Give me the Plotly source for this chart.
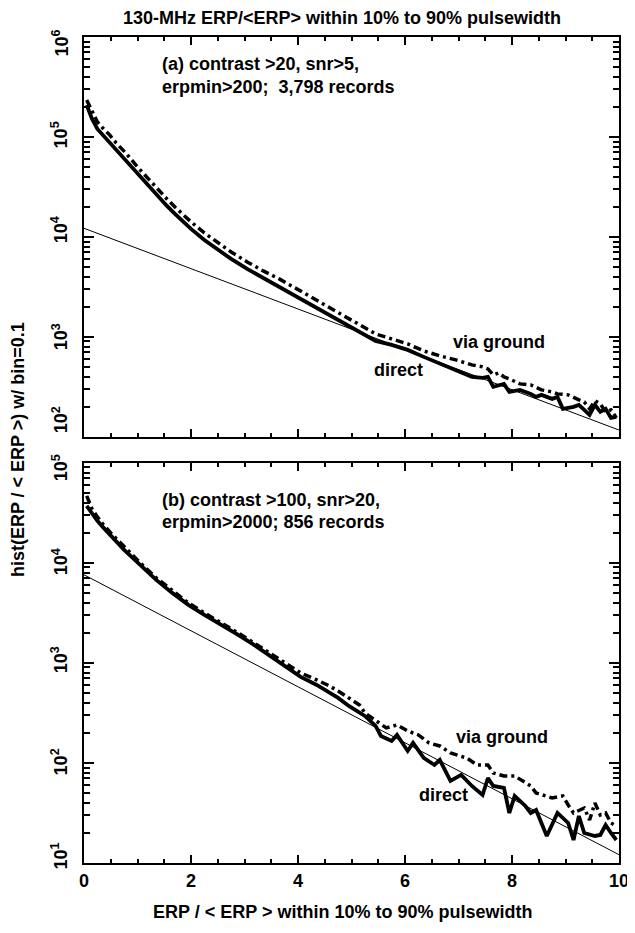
import numpy as np
import plotly.graph_objects as go

# ---------------- data ----------------
# panel (a)
a_direct_x = [0.05,0.15,0.25,0.35,0.48,0.6,0.78,1.0,1.2,1.39,1.55,1.7,2.0,2.25,2.5,2.75,3.05,3.35,3.65,3.95,4.25,4.55,4.85,5.15,5.45,
              5.75,6.05,6.35,6.65,6.95,7.25,7.45,7.55,7.65,7.85,7.95,8.15,8.35,8.45,8.55,8.75,8.85,8.95,9.15,9.25,9.35,9.45,9.55,9.65,9.75,9.85,9.95]
a_direct_log = [5.32,5.18,5.08,5.02,4.95,4.87,4.77,4.63,4.51,4.40,4.31,4.23,4.08,3.97,3.87,3.78,3.68,3.59,3.50,3.41,3.32,3.23,3.14,3.05,2.96,
                2.92,2.87,2.80,2.73,2.67,2.60,2.59,2.60,2.50,2.53,2.45,2.47,2.43,2.40,2.42,2.38,2.40,2.28,2.30,2.32,2.27,2.22,2.32,2.25,2.28,2.19,2.20]
a_ground_x = [0.05,0.15,0.25,0.35,0.48,0.6,0.78,1.0,1.2,1.39,1.55,1.7,2.0,2.25,2.5,2.75,3.05,3.35,3.65,3.95,4.25,4.55,4.85,5.15,5.45,
              5.75,6.05,6.35,6.65,6.95,7.15,7.25,7.45,7.55,7.65,7.75,7.85,7.95,8.15,8.35,8.55,8.75,8.85,9.05,9.25,9.35,9.45,9.55,9.65,9.75,9.85,9.95]
a_ground_log = [5.37,5.25,5.15,5.09,5.02,4.94,4.84,4.70,4.58,4.47,4.38,4.30,4.15,4.04,3.94,3.85,3.75,3.66,3.58,3.49,3.40,3.31,3.22,3.12,3.03,
                2.98,2.93,2.86,2.81,2.77,2.74,2.72,2.70,2.68,2.62,2.64,2.60,2.58,2.53,2.52,2.47,2.45,2.43,2.42,2.37,2.35,2.28,2.36,2.33,2.25,2.27,2.19]
a_fit_x = [0, 10]
a_fit_y = [12200, 117]

# panel (b)
b_direct_x = [0.05,0.15,0.25,0.35,0.5,0.75,1.05,1.35,1.65,1.95,2.25,2.55,2.85,3.15,3.45,3.75,4.05,4.35,4.55,4.75,4.95,5.15,5.25,5.45,5.55,
              5.75,5.85,6.05,6.15,6.35,6.55,6.65,6.85,7.05,7.25,7.45,7.55,7.65,7.85,7.95,8.05,8.25,8.35,8.45,8.65,8.85,9.05,9.15,9.25,9.35,9.55,9.65,9.75,9.85,9.95]
b_direct_log = [4.57,4.49,4.42,4.36,4.27,4.13,3.98,3.83,3.70,3.58,3.48,3.39,3.29,3.19,3.08,2.96,2.86,2.78,2.72,2.65,2.57,2.51,2.47,2.37,2.27,
                2.22,2.28,2.12,2.20,2.05,1.98,2.03,1.82,1.88,1.77,1.68,1.85,1.77,1.75,1.50,1.67,1.57,1.50,1.53,1.27,1.50,1.40,1.23,1.47,1.30,1.27,1.28,1.38,1.30,1.23]
b_ground_x = [0.05,0.15,0.25,0.35,0.5,0.75,1.05,1.35,1.65,1.95,2.25,2.55,2.85,3.15,3.45,3.75,4.05,4.35,4.55,4.75,4.95,5.15,5.25,5.45,5.65,
              5.85,6.05,6.25,6.45,6.65,6.85,7.15,7.35,7.55,7.65,7.85,8.05,8.35,8.45,8.75,8.95,9.05,9.15,9.35,9.45,9.55,9.65,9.75,9.85,9.95]
b_ground_log = [4.67,4.54,4.46,4.39,4.30,4.16,4.00,3.85,3.72,3.60,3.50,3.41,3.31,3.21,3.11,3.00,2.90,2.83,2.78,2.72,2.65,2.58,2.50,2.43,2.35,
                2.38,2.32,2.28,2.20,2.17,2.10,2.05,1.98,1.98,1.90,1.87,1.87,1.77,1.70,1.65,1.67,1.58,1.50,1.55,1.43,1.60,1.48,1.50,1.40,1.37]
b_fit_x = [0, 10]
b_fit_y = [7600, 12.1]

x_ticks = [0, 2, 4, 6, 8, 10]
x_minor = [0.5,1,1.5,2.5,3,3.5,4.5,5,5.5,6.5,7,7.5,8.5,9,9.5]
a_decades = [2, 3, 4, 5, 6]
b_decades = [1, 2, 3, 4, 5]

FONT = "Liberation Sans, Arial, sans-serif"
FS = 18

fig = go.Figure()

def add_panel(xd, yd, xg, yg, fx, fy, xa, ya):
    fig.add_trace(go.Scatter(x=fx, y=fy, mode="lines", line=dict(color="black", width=1),
                             xaxis=xa, yaxis=ya, showlegend=False))
    fig.add_trace(go.Scatter(x=xg, y=[10**v for v in yg], mode="lines",
                             line=dict(color="black", width=3.5, dash="8px,4px,3px,4px"),
                             xaxis=xa, yaxis=ya, showlegend=False))
    fig.add_trace(go.Scatter(x=xd, y=[10**v for v in yd], mode="lines",
                             line=dict(color="black", width=3.8),
                             xaxis=xa, yaxis=ya, showlegend=False))

add_panel(a_direct_x, a_direct_log, a_ground_x, a_ground_log, a_fit_x, a_fit_y, "x2", "y2")
add_panel(b_direct_x, b_direct_log, b_ground_x, b_ground_log, b_fit_x, b_fit_y, "x", "y")

def minor_vals(decs):
    out = []
    for d in decs[:-1]:
        for m in range(2, 10):
            out.append(m * 10**d)
    return out

xcommon = dict(range=[0, 10], tickvals=x_ticks, ticks="inside", ticklen=8, tickwidth=1.5,
               showline=True, linewidth=2, linecolor="black", mirror="allticks",
               showgrid=False, zeroline=False, ticklabeloverflow="allow",
               minor=dict(tickvals=x_minor, ticks="inside", ticklen=4, tickwidth=1.5, tickcolor="black", showgrid=False),
               tickcolor="black", tickfont=dict(family=FONT, size=FS, color="black", weight="bold"))

def ycommon(decs, dom):
    return dict(type="log", range=[decs[0], decs[-1]], domain=dom,
                tickvals=[10**d for d in decs], showticklabels=False,
                ticks="inside", ticklen=10, tickwidth=1.5, tickcolor="black",
                showline=True, linewidth=2, linecolor="black", mirror="allticks",
                showgrid=False, zeroline=False,
                minor=dict(tickvals=minor_vals(decs), ticks="inside", ticklen=6, tickwidth=1.5,
                           tickcolor="black", showgrid=False))

# page coordinates are measured on the 635x933 window; the html body adds an 8px margin
OFF = 8
W, H = 635 - OFF, 933 - OFF
plot_l, plot_r, plot_t, plot_b = 84, 629, 37, 863.3   # page px
ml = plot_l - OFF
mr = W - (plot_r - OFF)
mt = plot_t - OFF
mb = H - (plot_b - OFF)
ph = H - mt - mb
pw = W - ml - mr
a_bottom = 437   # page px
b_top = 463      # page px
dom_a = [(plot_b - a_bottom) / ph, 1]
dom_b = [0, (plot_b - b_top) / ph]

fig.update_layout(
    width=W, height=H, margin=dict(l=ml, r=mr, t=mt, b=mb),
    plot_bgcolor="white", paper_bgcolor="white",
    xaxis=dict(anchor="y", **xcommon),
    xaxis2=dict(anchor="y2", matches="x", **{k: v for k, v in xcommon.items() if k != "tickfont"}, showticklabels=False),
    yaxis=dict(anchor="x", **ycommon(b_decades, dom_b)),
    yaxis2=dict(anchor="x2", **ycommon(a_decades, dom_a)),
    font=dict(family=FONT, size=FS, color="black", weight="bold"),
)

def px_to_paper_x(px):
    return (px - plot_l) / pw

def py_to_paper_y(py):
    return (plot_b - py) / ph

ann = []
# y tick labels (rotated)
for d, off in zip(a_decades, [0.17, 0, 0.07, 0.02, -0.06]):
    ann.append(dict(text=f"10<sup>{d}</sup>", x=px_to_paper_x(60), xref="paper", y=d + off, yref="y2",
                    textangle=-90, showarrow=False, xanchor="center", yanchor="middle"))
for d, off in zip(b_decades, [0.07, 0.01, 0.03, 0.01, -0.05]):
    ann.append(dict(text=f"10<sup>{d}</sup>", x=px_to_paper_x(60), xref="paper", y=d + off, yref="y",
                    textangle=-90, showarrow=False, xanchor="center", yanchor="middle"))

# titles
ann.append(dict(text="130-MHz ERP/&lt;ERP&gt; within 10% to 90% pulsewidth", x=px_to_paper_x(347), xref="paper",
                y=py_to_paper_y(18), yref="paper", showarrow=False, xanchor="center", yanchor="middle"))
ann.append(dict(text="ERP / &lt; ERP &gt; within 10% to 90% pulsewidth", x=px_to_paper_x(347), xref="paper",
                y=py_to_paper_y(912), yref="paper", showarrow=False, xanchor="center", yanchor="middle"))
ann.append(dict(text="hist(ERP / &lt; ERP &gt;) w/ bin=0.1", x=px_to_paper_x(17), xref="paper",
                y=py_to_paper_y(450), yref="paper", textangle=-90, showarrow=False, xanchor="center", yanchor="middle"))

# panel texts
def txt(t, px, py, anchor="left"):
    ann.append(dict(text=t, x=px_to_paper_x(px), xref="paper", y=py_to_paper_y(py), yref="paper",
                    showarrow=False, xanchor=anchor, yanchor="middle"))

txt("(a) contrast &gt;20, snr&gt;5,", 161, 64)
txt("erpmin&gt;200;  3,798 records", 161, 87)
txt("(b) contrast &gt;100, snr&gt;20,", 161, 500)
txt("erpmin&gt;2000; 856 records", 161, 522)
txt("via ground", 458, 342)
txt("direct", 377, 370)
txt("via ground", 461, 737)
txt("direct", 423, 795)

fig.update_layout(annotations=ann)
fig.write_html("out.html")
